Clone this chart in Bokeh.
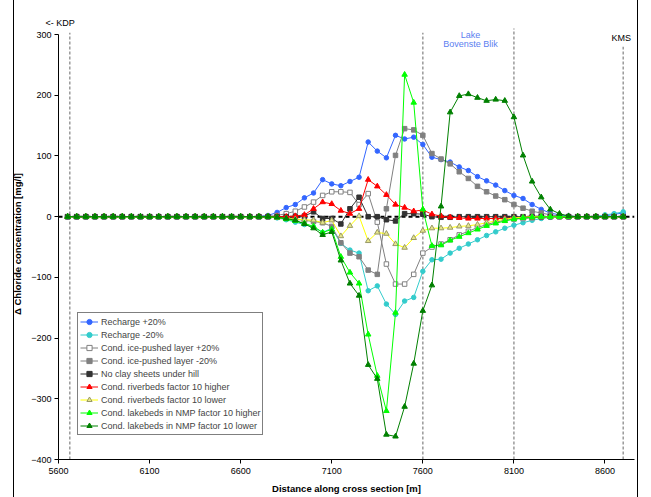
from bokeh.plotting import figure
from bokeh.models import Span, Label, Legend, LegendItem, FixedTicker, Range1d
from bokeh.embed import file_html
from bokeh.resources import INLINE

# Model nodes along the cross section [m]
distance = list(range(5650, 8701, 50))

# Change in chloride concentration [mg/l] per scenario
recharge_plus = [0] * 22 + [2, 7, 15, 20, 31, 39, 61, 54, 51, 58, 65, 123, 108, 97, 134, 128, 131,
                            119, 98, 94, 90, 82, 76, 66, 59, 52, 43, 35, 30, 20, 12, 6, 3, 1,
                            0, 0, 0, 1, 4, 6]
recharge_minus = [0] * 23 + [-2, -5, -9, -13, -17, -26, -19, -44, -55, -60, -122, -114, -144, -161,
                             -139, -133, -90, -71, -70, -60, -52, -45, -38, -31, -25, -19, -14,
                             -10, -6, -3, -1, 0, 0, 0, 0, 0, 3, 5, 8]
icepushed_plus = [0] * 23 + [2, 5, 9, 16, 24, 35, 41, 41, 40, 20, 38, -9, -78, -111, -111, -95,
                             -60, -50, -45, -38, -30, -24, -18, -13, -9, -6, -4, -3, -2, -1,
                             0, 0, 0, 0, 0, 0, 0, 0, 0]
icepushed_minus = [0] * 24 + [-2, -4, -6, -8, -10, -16, -43, -60, -66, -88, -95, 13, 101, 145, 143,
                              134, 104, 95, 87, 74, 63, 50, 41, 34, 28, 20, 14, 9, 6, 3, 1,
                              0, 0, 0, 0, 0, 0, 0]
no_clay = [0] * 26 + [1, 8, -3, -3, -12, 13, 32, 0, 0, -5, -7, 5, 5, 4, 0, -1, -1,
                      0, 0, 0, 0, 0, 0, 0, 0, 0, 0, 0, 0, 0, 0, 0, 0, 0, 0, 0]
riverbeds_high = [0] * 25 + [1, 3, 13, 24, 21, 10, 5, 13, 61, 50, 36, 20, 15, 9, 11, 4, 1, -1, -2,
                             -3, -3, -3, -3, -3, -2, -2, -1, 0, 0, 0, 0, 0, 0, 0, 0, 0, 0]
riverbeds_low = [0] * 23 + [-2, -3, -4, -5, -6, -10, -6, -32, -15, 1, -40, -26, -28, -45, -51, -35,
                            -23, -19, -19, -18, -16, -15, -13, -10, -7, -4, -2, -1,
                            0, 0, 0, 0, 0, 0, 0, 0, 0, 0, 0]
lakebeds_high = [0] * 23 + [-1, -4, -7, -11, -16, -26, -21, -66, -92, -110, -194, -262, -320, -158,
                            234, 188, 12, -48, -47, -39, -33, -27, -21, -15, -11, -7, -4, -2, -1,
                            0, 0, 0, 0, 0, 0, 0, 0, 0, 0]
lakebeds_low = [0] * 23 + [-1, -3, -6, -12, -19, -30, -25, -72, -110, -130, -244, -267, -359, -362,
                           -313, -242, -155, -113, 17, 172, 199, 202, 196, 191, 193, 191, 164, 101,
                           58, 32, 12, 5, 1, 0, 0, 0, 0, 0, 0]

x_ticks = [5600, 6100, 6600, 7100, 7600, 8100, 8600]
y_ticks = [-400, -300, -200, -100, 0, 100, 200, 300]

# Reference locations: well KDP, lake shores, well KMS (distance, top of marker line)
site_x = [5662, 7600, 8100, 8700]
site_bottom = [-400, -400, -400, -400]
site_top = [303, 303, 311, 280]

FONT = "Liberation Sans"

# A little headroom above the 300 mg/l axis top for the site annotations
p = figure(width=651, height=497, output_backend="svg", toolbar_location=None,
           x_range=Range1d(5600, 8762), y_range=Range1d(-400, 310),
           min_border_left=58, min_border_right=17, min_border_top=28,
           min_border_bottom=38)
# chart-area frame: thin black rules left and right, seen through a transparent border
p.border_fill_alpha = 0
p.styles = {"background": "linear-gradient(to right, white 13px, black 13px, black 14px, "
                          "white 14px, white 637px, black 637px, black 638px, white 638px)"}
p.outline_line_color = None
p.xgrid.grid_line_color = None
p.ygrid.grid_line_color = None
p.background_fill_color = "white"

# well KDP marker text, just above the plot area on the left
p.title.text = "<- KDP"
p.title.align = "left"
p.title.offset = -13
p.title.standoff = 1
p.title.text_font = FONT
p.title.text_font_size = "9px"
p.title.text_font_style = "normal"
p.title.text_color = "black"

for ax in (p.xaxis[0], p.yaxis[0]):
    ax.axis_line_color = "black"
    ax.major_tick_line_color = "black"
    ax.major_tick_out = 4
    ax.major_tick_in = 0
    ax.minor_tick_line_color = None
    ax.major_label_text_font = FONT
    ax.major_label_text_font_size = "9px"
    ax.major_label_text_color = "black"
    ax.axis_label_text_font = FONT
    ax.axis_label_text_font_size = "9.5px"
    ax.axis_label_text_font_style = "bold"
    ax.axis_label_text_color = "black"

p.xaxis.ticker = FixedTicker(ticks=x_ticks)
p.yaxis.ticker = FixedTicker(ticks=y_ticks)
p.yaxis.bounds = (-400, 300)
p.xaxis.axis_label = "Distance along cross section [m]"
p.yaxis.axis_label = "Δ Chloride concentration [mg/l]"
p.xaxis.major_label_standoff = 4
p.yaxis.major_label_standoff = 3
p.xaxis.axis_label_standoff = 6
p.yaxis.axis_label_standoff = 5

p.segment(x0=site_x, y0=site_bottom, x1=site_x, y1=site_top, line_color="#999999",
          line_dash="3 2", line_width=1.5)

p.add_layout(Span(location=0, dimension="width", line_color="black",
                  line_dash="4 3", line_width=2, level="underlay"))

series = [
    ("Recharge +20%", recharge_plus, "#3366FF", "circle", "#3366FF", "#3366FF", 4.5),
    ("Recharge -20%", recharge_minus, "#33CCCC", "circle", "#33CCCC", "#33CCCC", 4.5),
    ("Cond. ice-pushed layer +20%", icepushed_plus, "#808080", "square", "white", "#808080", 4.5),
    ("Cond. ice-pushed layer -20%", icepushed_minus, "#808080", "square", "#808080", "#808080", 4.5),
    ("No clay sheets under hill", no_clay, "#333333", "square", "#333333", "#333333", 4.5),
    ("Cond. riverbeds factor 10 higher", riverbeds_high, "#FF0000", "triangle", "#FF0000", "#FF0000", 5.5),
    ("Cond. riverbeds factor 10 lower", riverbeds_low, "#FFFF00", "triangle", "#E6E68C", "#999966", 5.5),
    ("Cond. lakebeds in NMP factor 10 higher", lakebeds_high, "#00FF00", "triangle", "#00FF00", "#00FF00", 5.5),
    ("Cond. lakebeds in NMP factor 10 lower", lakebeds_low, "#008000", "triangle", "#008000", "#008000", 5.5),
]

items = []
for label, values, color, marker, fill, edge, size in series:
    ln = p.line(distance, values, line_color=color, line_width=1)
    mk = p.scatter(distance, values, marker=marker, size=size, fill_color=fill,
                   line_color=edge, line_width=1)
    items.append(LegendItem(label=label, renderers=[ln, mk]))

legend = Legend(items=items, location=(19, 24), label_text_font=FONT,
                label_text_font_size="9px", glyph_width=18, glyph_height=13,
                label_height=13, spacing=0, padding=2, margin=0, label_standoff=3,
                border_line_color="black", border_line_width=1,
                background_fill_color="white", background_fill_alpha=1)
p.add_layout(legend)

p.add_layout(Label(x=7862, y=300, text="Lake", text_align="center",
                   text_baseline="middle", text_font=FONT, text_font_size="9px",
                   text_color="#5C80F0"))
p.add_layout(Label(x=7862, y=284, text="Bovenste Blik", text_align="center",
                   text_baseline="middle", text_font=FONT, text_font_size="9px",
                   text_color="#5C80F0"))
p.add_layout(Label(x=8689, y=295, text="KMS", text_align="center",
                   text_baseline="middle", text_font=FONT, text_font_size="9px",
                   text_color="black"))

open("out.html", "w").write(file_html(p, INLINE))
